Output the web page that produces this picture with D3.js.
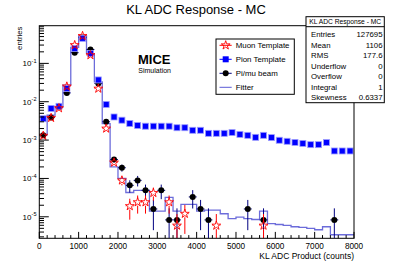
<!DOCTYPE html>
<html>
<head>
<meta charset="utf-8">
<script src="https://cdn.jsdelivr.net/npm/d3@7/dist/d3.min.js"></script>
<style>
  body { margin: 0; background: #fff; }
  svg { display: block; font-family: "Liberation Sans", Arial, sans-serif; }
</style>
</head>
<body>
<div id="chart"></div>
<script>
// bins of 200 counts, 0..8000
const binLow = [0, 200, 400, 600, 800, 1000, 1200, 1400, 1600, 1800,
  2000, 2200, 2400, 2600, 2800, 3000, 3200, 3400, 3600, 3800,
  4000, 4200, 4400, 4600, 4800, 5000, 5200, 5400, 5600, 5800,
  6000, 6200, 6400, 6600, 6800, 7000, 7200, 7400, 7600, 7800];
const binWidth = 200;

const pionTemplate = [3.6e-3, 6.7e-3, 7.6e-3, 2.2e-2, 0.245, 0.45, 0.18, 0.037, 8.5e-3, 4.0e-3,
  3.3e-3, 2.7e-3, 2.4e-3, 2.3e-3, 2.3e-3, 2.3e-3, 2.3e-3, 2.1e-3, 2.1e-3, 1.8e-3,
  1.8e-3, 1.5e-3, 1.5e-3, 1.5e-3, 1.57e-3, 1.41e-3, 1.33e-3, 1.18e-3, 1.33e-3, 1.16e-3,
  9.9e-4, 9.3e-4, 8.7e-4, 8.2e-4, 7.6e-4, 7.6e-4, 8.6e-4, 5.2e-4, 5.2e-4, 5.2e-4];

const muonTemplate = [1.3e-3, 3.8e-3, 6.8e-3, 0.025, 0.30, 0.52, 0.164, 0.022, 2.0e-3, 2.6e-4,
  8.9e-5, 1.9e-5, 2.4e-5, 2.4e-5, 4.2e-5, null, 2.4e-5, 5.9e-6, 1.2e-5, null,
  null, null, 5.9e-6, null, null, null, null, null, 5.9e-6, null,
  null, null, null, null, null, null, null, null, null, null];

const piMuBeam = [1.33e-3, 3.9e-3, 7.3e-3, 0.017, 0.19, 0.47, 0.23, 0.03, 3.0e-3, 3.1e-4,
  1.9e-4, 6.6e-5, 8.9e-5, 4.9e-5, 1.6e-5, 4.9e-5, 8.3e-6, 8.3e-6, null, 3.3e-5,
  1.6e-5, 8.3e-6, null, null, null, null, 1.6e-5, null, 8.3e-6, null,
  null, null, null, null, null, null, null, 8.3e-6, null, null];

const fitter = [1.4e-3, 4.5e-3, 7.2e-3, 0.027, 0.26, 0.52, 0.18, 0.033, 2.7e-3, 2.0e-4,
  1.0e-4, 4.3e-5, 4.9e-5, 4.9e-5, 1.4e-5, 1.4e-5, 3.2e-5, 1.4e-5, 2.1e-5, 2.1e-5,
  1.4e-5, 1.5e-5, 1.5e-5, 1.2e-5, 9e-6, 9.8e-6, 9e-6, 8.5e-6, 1.4e-5, 6.6e-6,
  6.3e-6, 6e-6, 5.5e-6, 5.3e-6, 5.0e-6, 4.6e-6, 5.5e-6, 3.4e-6, 3.4e-6, 3.4e-6];

// weight of one entry, used for the Poisson error bars
const beamUnit = 8.3e-6;
const muonUnit = 5.9e-6;

const xTicks = [0, 1000, 2000, 3000, 4000, 5000, 6000, 7000, 8000];
const yTicks = [1e-5, 1e-4, 1e-3, 1e-2, 1e-1];

const statsRows = [["Entries", "127695"], ["Mean", "1106"], ["RMS", "177.6"],
  ["Underflow", "0"], ["Overflow", "0"], ["Integral", "1"], ["Skewness", "0.6337"]];

const legendItems = ["Muon Template", "Pion Template", "Pi/mu beam", "Fitter"];

const W = 394, H = 267;
const pL = 39.3, pR = 354, pT = 25.7, pB = 238.3;

const svg = d3.select("#chart").append("svg")
  .attr("width", W).attr("height", H);

const x = d3.scaleLinear().domain([0, 8000]).range([pL, pR]);
const y = d3.scaleLog().domain([2.75e-6, 0.96]).range([pB, pT]);

const fitColor = "#5c5cd6";
const red = "#ff0000", navy = "#000080", blue = "#0000ff";

// title
svg.append("text").attr("x", 196).attr("y", 13.5)
  .attr("text-anchor", "middle").attr("font-size", 13).text("KL ADC Response - MC");

// clip for the data
svg.append("clipPath").attr("id", "plot").append("rect")
  .attr("x", pL).attr("y", pT).attr("width", pR - pL).attr("height", pB - pT);
const g = svg.append("g").attr("clip-path", "url(#plot)");

// fitter histogram as steps
const stepPts = binLow.map((b, i) => [b, fitter[i]]);
stepPts.push([8000, fitter[fitter.length - 1]]);
g.append("path")
  .attr("d", d3.line().x(d => x(d[0])).y(d => y(d[1])).curve(d3.curveStepAfter)(stepPts))
  .attr("fill", "none").attr("stroke", fitColor).attr("stroke-width", 1.3).attr("opacity", 0.9);

function errorBars(sel, values, unit, color, r) {
  const pts = binLow.map((b, i) => ({ b, v: values[i] })).filter(d => d.v != null);
  pts.forEach(d => {
    const cx = x(d.b + binWidth / 2), cy = y(d.v);
    const e = Math.sqrt(d.v / unit) * unit;
    const lo = Math.max(d.v - e, y.domain()[0]);
    const yl = y(lo), yh = y(d.v + e);
    if (yl > cy + r) sel.append("line").attr("x1", cx).attr("x2", cx).attr("y1", cy + r).attr("y2", yl)
      .attr("stroke", color).attr("stroke-width", 1);
    if (yh < cy - r) sel.append("line").attr("x1", cx).attr("x2", cx).attr("y1", cy - r).attr("y2", yh)
      .attr("stroke", color).attr("stroke-width", 1);
    sel.append("line").attr("x1", x(d.b)).attr("x2", cx - r).attr("y1", cy).attr("y2", cy)
      .attr("stroke", color).attr("stroke-width", 1);
    sel.append("line").attr("x1", cx + r).attr("x2", x(d.b + binWidth)).attr("y1", cy).attr("y2", cy)
      .attr("stroke", color).attr("stroke-width", 1);
  });
  return pts;
}

// pi/mu beam: black dots
const beamPts = errorBars(g.append("g"), piMuBeam, beamUnit, navy, 2.5);
g.append("g").selectAll("circle").data(beamPts).join("circle")
  .attr("cx", d => x(d.b + binWidth / 2)).attr("cy", d => y(d.v)).attr("r", 3).attr("fill", "#000");

// pion template: blue squares
g.append("g").selectAll("rect").data(binLow.map((b, i) => ({ b, v: pionTemplate[i] }))).join("rect")
  .attr("x", d => x(d.b + binWidth / 2) - 3).attr("y", d => y(d.v) - 3)
  .attr("width", 6).attr("height", 6).attr("fill", blue)
  .attr("stroke", "#9c9cff").attr("stroke-width", 0.8);

// muon template: open red stars
const starGen = d3.symbol(d3.symbolStar, 24);
const muonPts = errorBars(g.append("g"), muonTemplate, muonUnit, red, 3.5);
g.append("g").selectAll("path").data(muonPts).join("path")
  .attr("d", starGen)
  .attr("transform", d => `translate(${x(d.b + binWidth / 2)},${y(d.v)})`)
  .attr("fill", "none").attr("stroke", red).attr("stroke-width", 0.9);

// frame
svg.append("rect").attr("x", pL).attr("y", pT).attr("width", pR - pL).attr("height", pB - pT)
  .attr("fill", "none").attr("stroke", "#000").attr("stroke-width", 1);

// x ticks (inside)
const xMinor = d3.range(0, 8001, 200);
svg.append("g").selectAll("line").data(xMinor).join("line")
  .attr("x1", d => x(d)).attr("x2", d => x(d))
  .attr("y1", pB).attr("y2", d => pB - (d % 1000 === 0 ? 6.4 : 3.2))
  .attr("stroke", "#000").attr("stroke-width", 1);
svg.append("g").selectAll("text").data(xTicks).join("text")
  .attr("x", d => x(d)).attr("y", 249).attr("text-anchor", "middle")
  .attr("font-size", 8.2).text(d => d);

// y ticks (inside, log)
const yMinor = [];
for (let e = -6; e <= 0; e++) for (let m = 1; m <= 9; m++) {
  const v = m * Math.pow(10, e);
  if (v >= y.domain()[0] && v <= y.domain()[1]) yMinor.push({ v, major: m === 1 });
}
svg.append("g").selectAll("line").data(yMinor).join("line")
  .attr("x1", pL).attr("x2", d => pL + (d.major ? 9.5 : 4.7))
  .attr("y1", d => y(d.v)).attr("y2", d => y(d.v))
  .attr("stroke", "#000").attr("stroke-width", 1);
const yl = svg.append("g").selectAll("text").data(yTicks).join("text")
  .attr("x", 36.5).attr("y", d => y(d) + 3).attr("text-anchor", "end").attr("font-size", 8);
yl.append("tspan").text("10");
yl.append("tspan").attr("dy", -3.5).attr("font-size", 5.6).text(d => Math.round(Math.log10(d)));

// axis titles
svg.append("text").attr("transform", "translate(22,26.5) rotate(-90)")
  .attr("text-anchor", "end").attr("font-size", 7.8).text("entries");
svg.append("text").attr("x", pR).attr("y", 259).attr("text-anchor", "end")
  .attr("font-size", 8.5).text("KL ADC Product (counts)");

// MICE label
svg.append("text").attr("x", 138).attr("y", 64).attr("font-size", 13).attr("font-weight", "bold").text("MICE");
svg.append("text").attr("x", 138.3).attr("y", 73).attr("font-size", 7).text("Simulation");

// legend
const lg = svg.append("g");
lg.append("rect").attr("x", 216).attr("y", 39).attr("width", 78.3).attr("height", 55.3)
  .attr("fill", "#fff").attr("stroke", "#000").attr("stroke-width", 1);
const rowY = [45.3, 59.3, 73.3, 87.3];
const lineColors = [red, blue, navy, fitColor];
legendItems.forEach((t, i) => {
  lg.append("line").attr("x1", 219.5).attr("x2", 231.7).attr("y1", rowY[i]).attr("y2", rowY[i])
    .attr("stroke", lineColors[i]).attr("stroke-width", 1);
  lg.append("text").attr("x", 235.7).attr("y", rowY[i] + 2.8).attr("font-size", 7.9).text(t);
});
lg.append("path").attr("d", starGen).attr("transform", `translate(225.7,${rowY[0]})`)
  .attr("fill", "none").attr("stroke", red).attr("stroke-width", 0.9);
lg.append("rect").attr("x", 222.7).attr("y", rowY[1] - 3).attr("width", 6).attr("height", 6).attr("fill", blue);
lg.append("circle").attr("cx", 225.7).attr("cy", rowY[2]).attr("r", 3).attr("fill", "#000");

// stats box
const sb = svg.append("g");
sb.append("rect").attr("x", 306).attr("y", 16.7).attr("width", 78.3).attr("height", 86)
  .attr("fill", "#fff").attr("stroke", "#000").attr("stroke-width", 1);
sb.append("line").attr("x1", 306).attr("x2", 384.3).attr("y1", 26.7).attr("y2", 26.7)
  .attr("stroke", "#000").attr("stroke-width", 1);
sb.append("text").attr("x", 345.2).attr("y", 24).attr("text-anchor", "middle")
  .attr("font-size", 6.7).text("KL ADC Response - MC");
statsRows.forEach((r, i) => {
  const yy = 37 + i * 10.5;
  sb.append("text").attr("x", 311).attr("y", yy).attr("font-size", 7.8).text(r[0]);
  sb.append("text").attr("x", 382.5).attr("y", yy).attr("text-anchor", "end").attr("font-size", 7.8).text(r[1]);
});
</script>
</body>
</html>
